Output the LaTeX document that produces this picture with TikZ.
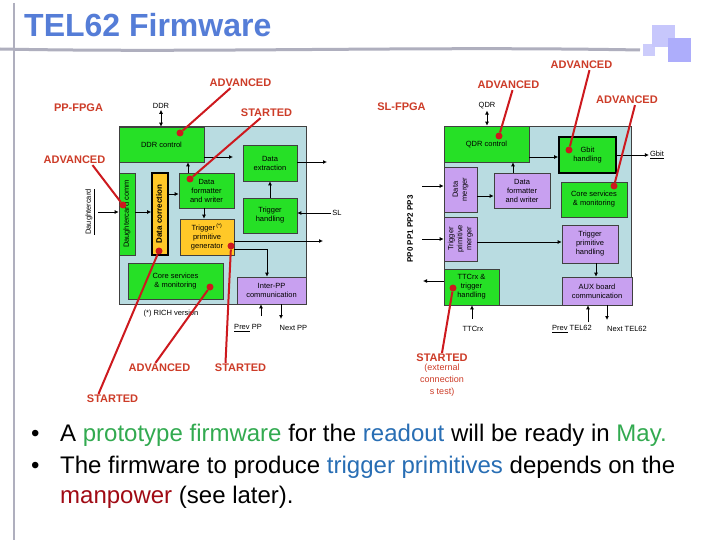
\documentclass[tikz,border=0pt]{standalone}
\usepackage{graphicx}
\usepackage{fontspec}
\setmainfont{Liberation Sans}
\usetikzlibrary{arrows.meta,positioning,calc}

\definecolor{boxgreen}{RGB}{38,224,38}
\definecolor{boxblue}{RGB}{185,220,225}
\definecolor{boxpurple}{RGB}{200,160,240}
\definecolor{boxyellow}{RGB}{255,200,40}
\definecolor{callred}{RGB}{205,25,30}
\definecolor{statred}{RGB}{205,60,40}
\definecolor{titleblue}{RGB}{85,125,215}
\definecolor{txtgreen}{RGB}{50,170,80}
\definecolor{txtblue}{RGB}{40,110,180}
\definecolor{txtred}{RGB}{160,10,20}
\definecolor{decogray}{RGB}{175,175,190}

\newcommand\vtxt[1]{\rotatebox{90}{\begin{tabular}{@{}c@{}}#1\end{tabular}}}

\tikzset{
  blk/.style ={draw=black!75,line width=.6pt,align=center,inner sep=1pt,
               font=\fontsize{7.5}{9}\selectfont},
  grn/.style ={blk,fill=boxgreen},
  prp/.style ={blk,fill=boxpurple},
  ylw/.style ={blk,fill=boxyellow},
  thk/.style ={draw=black,line width=1.6pt},
  cont/.style={draw=black!75,line width=.6pt,fill=boxblue,inner sep=0pt},
  ar/.style  ={-{Latex[length=4pt,width=4pt]},line width=.9pt},
  dar/.style ={{Latex[length=4pt,width=4pt]}-{Latex[length=4pt,width=4pt]},line width=.9pt},
  stat/.style={font=\bfseries\fontsize{11}{13}\selectfont,text=statred,inner sep=1pt},
  call/.style={draw=callred,line width=2pt},
  dot/.style ={circle,fill=callred,inner sep=0pt,minimum size=7pt},
  lbl/.style ={font=\fontsize{7.5}{8.5}\selectfont,inner sep=1pt},
  txt/.style ={font=\fontsize{24}{28}\selectfont,inner sep=0pt,anchor=base west},
}

\begin{document}
\begin{tikzpicture}[x=1pt,y=-1pt]
  \fill[white] (0,0) rectangle (720,540);
  \useasboundingbox (0,0) rectangle (720,540);

  % slide decoration
  \draw[decogray,line width=2.5pt] (14,3) -- (14,540);
  \draw[decogray,line width=3pt] (0,49) .. controls (200,53) and (420,46) .. (640,50);
  \fill[black!8!blue!20] (643,44) rectangle (655,56);
  \fill[black!5!blue!22] (652,25) rectangle (675,47);
  \fill[black!5!blue!32] (668,38) rectangle (691,62);
  \node[font=\bfseries\fontsize{32}{36}\selectfont,text=titleblue,inner sep=0pt,
        anchor=base west] (ttl) at (24,37) {TEL62 Firmware};

  % ---- PP-FPGA ----
  \node[stat] (ppf) at (78.5,108) {PP-FPGA};
  \node[lbl] (ddrl) at (161,106) {DDR};
  \node[cont,minimum width=187pt,minimum height=178pt] (lcont) at (212.5,215) {};
  \node[grn,minimum width=85pt,minimum height=35pt] (ddrc) at (161.5,144.5) {DDR control};
  \node[grn,minimum width=54pt,minimum height=36pt] (dext) at (270,163) {Data\\extraction};
  \node[grn,minimum width=54pt,minimum height=35pt] (trgh) at (270,215.5) {Trigger\\handling};
  \node[grn,minimum width=55pt,minimum height=35pt] (dfw) at (206.5,190.5) {Data\\formatter\\and writer};
  \node[ylw,minimum width=54pt,minimum height=36pt] (tpg) at (207,237)
        {Trigger\,\textsuperscript{(*)}\\primitive\\generator};
  \node[grn,minimum width=16pt,minimum height=82pt] (dcc) at (127,214)
        {\vtxt{\fontsize{7.5}{9}\selectfont Daughtercard comm}};
  \node[ylw,thk,minimum width=16pt,minimum height=82pt] (dcor) at (160,214)
        {\vtxt{\bfseries\fontsize{8}{9}\selectfont Data correction}};
  \node[grn,minimum width=95pt,minimum height=36pt] (core) at (175.5,281) {Core services\\\& monitoring};
  \node[prp,minimum width=69pt,minimum height=27pt] (ipp) at (271.5,290.5) {Inter-PP\\communication};
  \node[lbl,rotate=90] (dcl) at (90,212) {\underline{Daughtercard}};
  \node[lbl] (sll) at (337,213) {SL};
  \node[lbl] (rich) at (171,314) {(*) RICH version};
  \node[lbl] (prevpp) at (248,328) {\underline{Prev} PP};
  \node[lbl] (nextpp) at (293.5,328) {Next PP};

  \coordinate (ddrout) at (233,157);
  \coordinate (fw2ddr) at (188,173);
  \coordinate (fw2tp) at (204,208);
  \coordinate (extout) at (327,162);
  \coordinate (dcin) at (98,212);
  \coordinate (cor2fw) at (168,194);
  \coordinate (tpout) at (323,241);
  \coordinate (tp2pp) at (267,249);
  \coordinate (ppin) at (261,316);
  \coordinate (ppout) at (281,319);
  \draw[dar] (ddrl) -- (ddrl |- ddrc.north);
  \draw[ar] (ddrout -| ddrc.east) -- (ddrout);
  \draw[ar] (fw2ddr) -- (fw2ddr |- ddrc.south);
  \draw[ar] (fw2tp) -- (fw2tp |- tpg.north);
  \draw[ar] (trgh) -- (dext);
  \draw[ar] (extout -| dext.east) -- (extout);
  \draw[ar] (sll) -- (sll -| trgh.east);
  \draw[ar] (dcin) -- (dcin -| dcc.west);
  \draw[ar] (dcin -| dcc.east) -- (dcin -| dcor.west);
  \draw[ar] (cor2fw -| dcor.east) -- (cor2fw -| dfw.west);
  \draw[ar] (tpout -| tpg.east) -- (tpout);
  \draw[ar] (tp2pp -| tpg.east) -- (tp2pp) -- (tp2pp |- ipp.north);
  \draw[ar] (ppin) -- (ppin |- ipp.south);
  \draw[ar] (ppout |- ipp.south) -- (ppout);

  % ---- SL-FPGA ----
  \node[stat] (slf) at (401.5,107) {SL-FPGA};
  \node[lbl] (qdrl) at (487,106) {QDR};
  \node[cont,minimum width=187pt,minimum height=179pt] (rcont) at (537.5,215.5) {};
  \node[grn,minimum width=85pt,minimum height=36pt] (qdrc) at (486.5,144) {QDR control};
  \node[grn,thk,minimum width=57pt,minimum height=36pt] (gbit) at (587.5,155) {Gbit\\handling};
  \node[grn,minimum width=66pt,minimum height=35pt] (rcore) at (594,199.5) {Core services\\\& monitoring};
  \node[prp,minimum width=33pt,minimum height=45pt] (dmrg) at (460.5,189.5) {\vtxt{Data\\merger}};
  \node[prp,minimum width=56pt,minimum height=35pt] (rdfw) at (522,190.5) {Data\\formatter\\and writer};
  \node[prp,minimum width=33pt,minimum height=44pt] (tpm) at (460.5,239) {\vtxt{Trigger\\primitive\\merger}};
  \node[grn,minimum width=55pt,minimum height=36pt] (ttc) at (471.5,287) {TTCrx \&\\trigger\\handling};
  \node[prp,minimum width=56pt,minimum height=38pt] (tph) at (590,244) {Trigger\\primitive\\handling};
  \node[prp,minimum width=70pt,minimum height=28pt] (aux) at (597,291) {AUX board\\communication};
  \node[lbl] (gbitl) at (657,155) {\underline{Gbit}};
  \node[lbl,rotate=90,font=\bfseries\fontsize{8}{9}\selectfont] (ppl) at (410,229) {PP0 PP1 PP2 PP3};
  \node[lbl] (ttcl) at (473,329) {TTCrx};
  \node[lbl] (prevtel) at (572,329) {\underline{Prev} TEL62};
  \node[lbl] (nexttel) at (627,329) {Next TEL62};

  \coordinate (q2g) at (529,157);
  \coordinate (pin1) at (422,186);
  \coordinate (pin2) at (422,239);
  \coordinate (m2f) at (477,196);
  \coordinate (f2q) at (513,173);
  \coordinate (m2h) at (477,242);
  \coordinate (h2a) at (596,263);
  \coordinate (ttcout) at (423,281);
  \coordinate (ttcin) at (472,319);
  \coordinate (telin) at (588,322);
  \coordinate (telout) at (607,320);
  \draw[dar] (qdrl) -- (qdrl |- qdrc.north);
  \draw[ar] (q2g -| qdrc.east) -- (q2g -| gbit.west);
  \draw[ar] (gbit) -- (gbitl);
  \draw[ar] (pin1) -- (pin1 -| dmrg.west);
  \draw[ar] (pin2) -- (pin2 -| tpm.west);
  \draw[ar] (m2f -| dmrg.east) -- (m2f -| rdfw.west);
  \draw[ar] (f2q |- rdfw.north) -- (f2q |- qdrc.south);
  \draw[ar] (m2h -| tpm.east) -- (m2h -| tph.west);
  \draw[ar] (h2a |- tph.south) -- (h2a |- aux.north);
  \draw[ar] (ttcout -| ttc.west) -- (ttcout);
  \draw[ar] (ttcin) -- (ttcin |- ttc.south);
  \draw[ar] (telin) -- (telin |- aux.south);
  \draw[ar] (telout |- aux.south) -- (telout);

  % ---- status call-outs ----
  \node[stat] (adv1) at (240.5,83) {ADVANCED};
  \node[stat] (st2) at (266.5,113) {STARTED};
  \node[stat] (adv3) at (74.5,160) {ADVANCED};
  \node[stat] (adv4) at (159.5,368) {ADVANCED};
  \node[stat] (st5) at (112.5,399) {STARTED};
  \node[stat] (st6) at (240.5,368) {STARTED};
  \node[stat] (adv7) at (508.5,85) {ADVANCED};
  \node[stat] (adv8) at (581.5,65) {ADVANCED};
  \node[stat] (adv9) at (627,100) {ADVANCED};
  \node[stat] (st10) at (442,358) {STARTED};
  \node[stat,font=\fontsize{9}{12}\selectfont,align=center,below=0pt of st10] (st10n)
        {(external\\connection\\s test)};
  \node[dot] (d1) at (180,133) {};
  \node[dot] (d2) at (190,179) {};
  \node[dot] (d3) at (123,205) {};
  \node[dot] (d4) at (210,287) {};
  \node[dot] (d5) at (159,251) {};
  \node[dot] (d6) at (231,246) {};
  \node[dot] (d7) at (499,136) {};
  \node[dot] (d8) at (569,150) {};
  \node[dot] (d9) at (614,186) {};
  \node[dot] (d10) at (453,288) {};
  \draw[call] ([xshift=-10pt]adv1.south) -- (d1);
  \draw[call] ([xshift=-6pt]st2.south) -- (d2);
  \draw[call] ([xshift=18pt]adv3.south) -- (d3);
  \draw[call] ([xshift=-4pt]adv4.north) -- (d4);
  \draw[call] ([xshift=-14pt]st5.north) -- (d5);
  \draw[call] ([xshift=-15pt]st6.north) -- (d6);
  \draw[call] ([xshift=4pt]adv7.south) -- (d7);
  \draw[call] ([xshift=8pt]adv8.south) -- (d8);
  \draw[call] ([xshift=8pt]adv9.south) -- (d9);
  \draw[call] (st10.north) -- (d10);

  % ---- bullets ----
  \node[txt] (b1) at (31,441) {•};
  \node[txt] (t1) at (60,441) {A \textcolor{txtgreen}{prototype firmware} for the
        \textcolor{txtblue}{readout} will be ready in \textcolor{txtgreen}{May.}};
  \node[txt] (b2) at (31,473) {•};
  \node[txt] (t2) at (60,473) {The firmware to produce \textcolor{txtblue}{trigger primitives}
        depends on the};
  \node[txt] (t3) at (60,503) {\textcolor{txtred}{manpower} (see later).};
\end{tikzpicture}
\end{document}
